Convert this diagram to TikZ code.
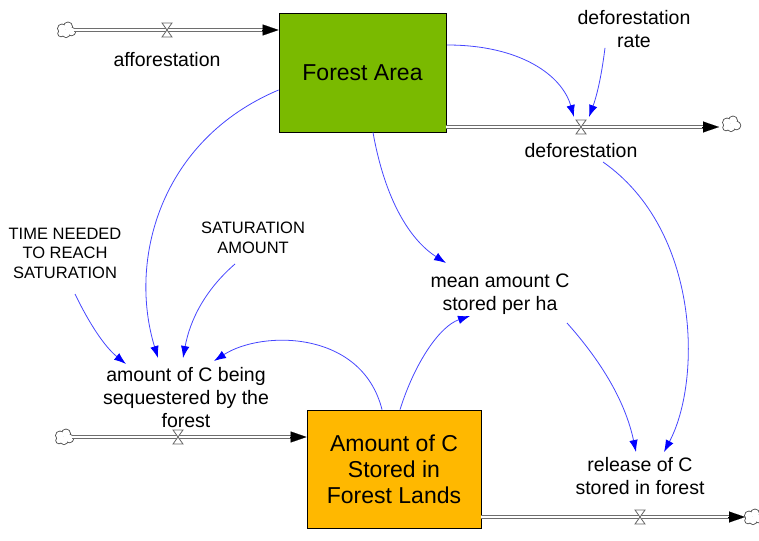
\documentclass[tikz,border=0pt]{standalone}
\usepackage{fontspec}
\setmainfont{Liberation Sans}
\usetikzlibrary{arrows.meta,calc}
\definecolor{fgreen}{RGB}{122,186,0}
\definecolor{corange}{RGB}{255,184,0}
\definecolor{linkblue}{RGB}{70,70,255}
\definecolor{headblue}{RGB}{0,0,255}
\definecolor{pipegray}{RGB}{110,110,110}
\tikzset{
  stock/.style={draw=black, line width=0.8pt, minimum width=167pt, minimum height=119pt, align=center, font=\fontsize{23}{26}\selectfont},
  lbl/.style={align=center, font=\fontsize{19.5}{23}\selectfont, inner sep=0pt},
  caps/.style={align=center, font=\fontsize{16.5}{19.5}\selectfont, inner sep=0pt},
  pipe/.style={draw=pipegray, double=white, double distance=2.6pt, line width=0.9pt},
  pipehead/.style={-{Triangle[length=16pt,width=11pt]}, black, line width=0.1pt},
  link/.style={draw=linkblue, line width=0.8pt, -{Latex[length=12pt,width=8.5pt,color=headblue]}},
  cloudmark/.style={minimum size=16pt, inner sep=0pt},
  cloudpic/.pic={
    \draw[black!70, line width=1.7pt] (-4,-1.5) circle (4) (2,-3.5) circle (4) (5.5,1.5) circle (3.8) (0,3.5) circle (3.6) (-5,3.5) circle (2.8);
    \fill[white] (-4,-1.5) circle (4) (2,-3.5) circle (4) (5.5,1.5) circle (3.8) (0,3.5) circle (3.6) (-5,3.5) circle (2.8);
  },
  valve/.pic={\draw[black!60, line width=0.8pt, fill=white] (-5,-7) -- (5,-7) -- (-5,7) -- (5,7) -- cycle;}
}
\begin{document}
\begin{tikzpicture}[x=1pt,y=-1pt]
\useasboundingbox (0,0) rectangle (759,540);
% stocks
\node[stock, fill=fgreen] (fa) at (362.5,72.5) {Forest Area};
\node[stock, fill=corange, minimum width=174pt, minimum height=118pt] (ac) at (394,469) {Amount of C\\Stored in\\Forest Lands};
% clouds
\node[cloudmark] (c1) at (66,30) {};
\node[cloudmark] (c2) at (731,124) {};
\node[cloudmark] (c3) at (64,437) {};
\node[cloudmark] (c4) at (753,517) {};
\pic at (c1) {cloudpic};
\pic at (c2) {cloudpic};
\pic at (c3) {cloudpic};
\pic at (c4) {cloudpic};
% pipes
\coordinate (aff) at (167,30);
\coordinate (def) at (581,127);
\coordinate (seq) at (178,437);
\coordinate (rel) at (640,517);
\draw[pipe] (c1.east) -- (264,30);
\draw[pipehead] (262,30) -- (fa.west |- 0,30);
\draw[pipe] (fa.east |- 0,127) -- (704,127);
\draw[pipehead] (702,127) -- (719,127);
\draw[pipe] (c3.east) -- (292,437);
\draw[pipehead] (290,437) -- (ac.west |- 0,437);
\draw[pipe] (ac.east |- 0,517) -- (730,517);
\draw[pipehead] (728,517) -- (745,517);
\pic at (aff) {valve};
\pic at (def) {valve};
\pic at (seq) {valve};
\pic at (rel) {valve};
% labels
\node[lbl] (laff) at (167,60) {afforestation};
\node[lbl] (ldef) at (581,151) {deforestation};
\node[lbl] (ldr) at (634,29) {deforestation\\rate};
\node[lbl] (lseq) at (186,398) {amount of C being\\sequestered by the\\forest};
\node[lbl] (lmean) at (500,294) {mean amount C\\stored per ha};
\node[lbl] (lrel) at (640,476) {release of C\\stored in forest};
\node[caps] (ltime) at (65,253) {TIME NEEDED\\TO REACH\\SATURATION};
\node[caps] (lsat) at (253,238) {SATURATION\\AMOUNT};
% links
\draw[link] (447,45) .. controls (520,45) and (562,75) .. (574,117);
\draw[link] (ldr.south -| 605,0) .. controls (601,80) and (596,98) .. (589,117);
\draw[link] (fa.west |- 0,90) .. controls (160,140) and (128,260) .. (158,358);
\draw[link] (235,264) .. controls (205,290) and (190,320) .. (183,358);
\draw[link] (75,294) .. controls (90,325) and (105,347) .. (126,364);
\draw[link] (ac.north -| 382,0) .. controls (362,330) and (262,330) .. (214,361);
\draw[link] (ac.north -| 400,0) .. controls (415,362) and (440,326) .. (470,316);
\draw[link] (fa.south -| 373,0) .. controls (385,200) and (410,240) .. (446,263);
\draw[link] (567,323) .. controls (600,360) and (625,400) .. (636,452);
\draw[link] (603,162) .. controls (700,230) and (702,380) .. (664,452);
\end{tikzpicture}
\end{document}
